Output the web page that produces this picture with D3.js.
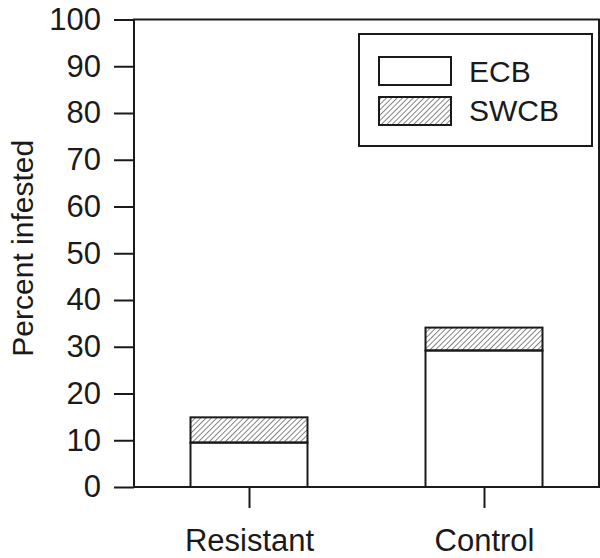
<!DOCTYPE html>
<html>
<head>
<meta charset="utf-8">
<script src="https://cdn.jsdelivr.net/npm/d3@7"></script>
<style>
  body { margin: 0; background: #fff; }
  svg { display: block; font-family: "Liberation Sans", Arial, sans-serif; }
</style>
</head>
<body>
<svg width="600" height="558"></svg>
<script>
// chart data
const categories = ["Resistant", "Control"];
const ecb = [9.5, 29.2];
const swcb = [5.4, 4.9];
const yTicks = [0, 10, 20, 30, 40, 50, 60, 70, 80, 90, 100];
const seriesNames = ["ECB", "SWCB"];

const ink = "#1a1a1a";
const svg = d3.select("svg");

// hatch pattern for SWCB
svg.append("defs").append("pattern")
  .attr("id", "hatch")
  .attr("patternUnits", "userSpaceOnUse")
  .attr("width", 3.8)
  .attr("height", 3.8)
  .attr("patternTransform", "rotate(45)")
  .append("line")
  .attr("x1", 0).attr("y1", 0)
  .attr("x2", 0).attr("y2", 3.8)
  .attr("stroke", "#222")
  .attr("stroke-width", 1.1);

const plotLeft = 134, plotRight = 599, plotTop = 19.5, plotBottom = 487;

const y = d3.scaleLinear().domain([0, 100]).range([plotBottom, plotTop]);
const x = d3.scalePoint().domain(categories).range([249, 484]);
const barW = 117;

// frame
svg.append("rect")
  .attr("x", plotLeft).attr("y", plotTop)
  .attr("width", plotRight - plotLeft).attr("height", plotBottom - plotTop)
  .attr("fill", "none").attr("stroke", ink).attr("stroke-width", 2);

// y axis
const yAxis = svg.append("g")
  .attr("transform", `translate(${plotLeft},0)`)
  .call(d3.axisLeft(y).tickValues(yTicks).tickSize(20).tickPadding(13));
yAxis.select(".domain").remove();
yAxis.selectAll("line").attr("stroke", ink).attr("stroke-width", 2);
yAxis.selectAll("text")
  .attr("fill", ink)
  .style("font-size", "31px")
  .style("font-family", "'Liberation Sans', Arial, sans-serif");

// x axis
const xAxis = svg.append("g")
  .attr("transform", `translate(0,${plotBottom})`)
  .call(d3.axisBottom(x).tickSize(21).tickPadding(21));
xAxis.select(".domain").remove();
xAxis.selectAll("line").attr("stroke", ink).attr("stroke-width", 2);
xAxis.selectAll("text")
  .attr("fill", ink)
  .style("font-size", "31px")
  .style("font-family", "'Liberation Sans', Arial, sans-serif");

// y axis title
svg.append("text")
  .attr("transform", `translate(33,${(plotTop + plotBottom) / 2 - 5}) rotate(-90)`)
  .attr("text-anchor", "middle")
  .attr("fill", ink)
  .style("font-size", "30px")
  .text("Percent infested");

// stacked bars
const bars = svg.append("g");
categories.forEach((c, i) => {
  bars.append("rect")
    .attr("x", x(c) - barW / 2)
    .attr("y", y(ecb[i]))
    .attr("width", barW)
    .attr("height", y(0) - y(ecb[i]))
    .attr("fill", "#fff")
    .attr("stroke", ink).attr("stroke-width", 2);
  bars.append("rect")
    .attr("x", x(c) - barW / 2)
    .attr("y", y(ecb[i] + swcb[i]))
    .attr("width", barW)
    .attr("height", y(ecb[i]) - y(ecb[i] + swcb[i]))
    .attr("fill", "url(#hatch)")
    .attr("stroke", ink).attr("stroke-width", 2);
});

// legend
const legend = svg.append("g");
legend.append("rect")
  .attr("x", 359).attr("y", 34)
  .attr("width", 233).attr("height", 112)
  .attr("fill", "#fff").attr("stroke", ink).attr("stroke-width", 2);
seriesNames.forEach((name, i) => {
  legend.append("rect")
    .attr("x", 379).attr("y", 57 + i * 40)
    .attr("width", 72).attr("height", 28)
    .attr("fill", i === 0 ? "#fff" : "url(#hatch)")
    .attr("stroke", ink).attr("stroke-width", 2);
  legend.append("text")
    .attr("x", 469).attr("y", 82 + i * 39)
    .attr("fill", ink)
    .style("font-size", "30px")
    .text(name);
});
</script>
</body>
</html>
